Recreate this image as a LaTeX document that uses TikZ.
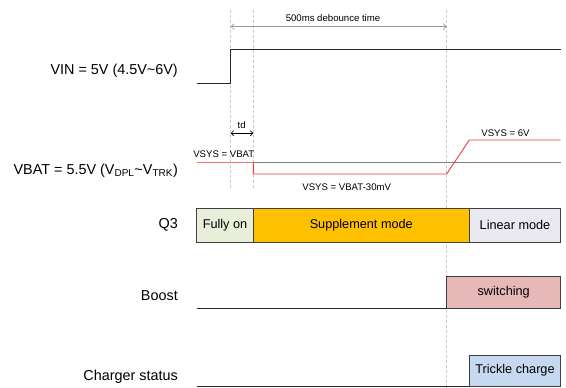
\documentclass[tikz,border=0pt]{standalone}
\usepackage{fontspec}
\setmainfont{Liberation Sans}
\usetikzlibrary{arrows.meta}
\definecolor{gridc}{RGB}{200,200,200}
\definecolor{sigc}{RGB}{40,40,40}
\definecolor{vbatc}{RGB}{128,128,128}
\definecolor{redc}{RGB}{235,60,60}
\definecolor{fullc}{RGB}{232,238,218}
\definecolor{suppc}{RGB}{255,192,0}
\definecolor{linc}{RGB}{234,232,240}
\definecolor{swc}{RGB}{230,184,183}
\definecolor{trkc}{RGB}{198,217,240}
\definecolor{boxline}{RGB}{64,64,64}
\tikzset{
  rowlabel/.style={anchor=east, inner sep=0pt, font=\fontsize{14.4}{16}\selectfont},
  small/.style={inner sep=0pt, font=\fontsize{9.6}{11}\selectfont},
  boxtxt/.style={draw=boxline, line width=0.9pt, inner sep=0pt, font=\fontsize{12.7}{14}\selectfont},
  grid/.style={draw=gridc, dashed, line width=0.6pt, dash pattern=on 3pt off 2pt},
  sig/.style={draw=sigc, line width=0.9pt},
  vbatline/.style={draw=vbatc, line width=1pt},
  redline/.style={draw=redc, line width=0.9pt},
}
\begin{document}
\begin{tikzpicture}[x=1pt,y=-1pt]
\useasboundingbox (0,0) rectangle (566,388);
% guides
\coordinate (g1t) at (230.7,10); \coordinate (g1b) at (230.7,188);
\coordinate (g2t) at (253.3,10); \coordinate (g2b) at (253.3,188);
\coordinate (g3t) at (446.7,10); \coordinate (g3b) at (446.7,388);
\draw[grid] (g1t) -- (g1b);
\draw[grid] (g2t) -- (g2b);
\draw[grid] (g3t) -- (g3b);
% debounce
\coordinate (dbA) at (230.7,26.7); \coordinate (dbB) at (446.7,26.7);
\draw[draw=vbatc!80, line width=0.7pt, {Straight Barb[length=3pt,width=6pt]}-{Straight Barb[length=3pt,width=6pt]}] (dbA) -- (dbB);
\node[small] (db) at (333,18) {500ms debounce time};
% VIN
\node[rowlabel] (vin) at (178,70.5) {VIN = 5V (4.5V\textasciitilde 6V)};
\coordinate (v0) at (196.7,83.3); \coordinate (v1) at (230.7,83.3);
\coordinate (v2) at (230.7,49.3); \coordinate (v3) at (560.7,49.3);
\draw[sig] (v0) -- (v1) -- (v2) -- (v3);
% VBAT
\node[rowlabel] (vbat) at (178,171) {VBAT = 5.5V (V\textsubscript{DPL}\textasciitilde V\textsubscript{TRK})};
\coordinate (b0) at (196.7,162.3); \coordinate (b1) at (560.7,162.3);
\draw[vbatline] (b0) -- (b1);
\coordinate (r0) at (196.7,162.3); \coordinate (r1) at (253.3,162.3);
\coordinate (r2) at (253.3,174); \coordinate (r3) at (446.7,174);
\coordinate (r4) at (469.3,140); \coordinate (r5) at (560.7,140);
\draw[draw=redc!70!white, line width=1.4pt] (r0) -- (r1);
\draw[redline] (r1) -- (r2) -- (r3) -- (r4) -- (r5);
\coordinate (tdA) at (230.7,133.3); \coordinate (tdB) at (253.3,133.3);
\draw[line width=0.7pt, {Straight Barb[length=2.5pt,width=5pt]}-{Straight Barb[length=2.5pt,width=5pt]}] (tdA) -- (tdB);
\node[small] (td) at (241.7,125) {td};
\node[small] (vs1) at (223.8,154) {VSYS = VBAT};
\node[small] (vs2) at (346.7,187) {VSYS = VBAT-30mV};
\node[small] (vs3) at (505.5,133) {VSYS = 6V};
% Q3
\node[rowlabel] (q3) at (178,225.3) {Q3};
\node[boxtxt, fill=fullc, minimum width=56.6pt, minimum height=34pt] (full) at (225,225.3) {Fully on};
\node[boxtxt, fill=suppc, minimum width=216pt, minimum height=34pt] (supp) at (361.3,225.3) {Supplement mode};
\node[boxtxt, fill=linc, minimum width=91.4pt, minimum height=34pt] (lin) at (515,225.3) {Linear mode};
% Boost
\node[rowlabel] (boost) at (178,296) {Boost};
\coordinate (s0) at (196.7,308.3); \coordinate (s1) at (446.7,308.3);
\draw[sig] (s0) -- (s1);
\node[boxtxt, fill=swc, minimum width=114pt, minimum height=31.6pt] (sw) at (503.7,292.5) {switching};
% Charger
\node[rowlabel] (chg) at (178,377) {Charger status};
\coordinate (c0) at (196.7,386); \coordinate (c1) at (469.3,386);
\draw[sig] (c0) -- (c1);
\node[boxtxt, fill=trkc, minimum width=91.4pt, minimum height=31pt] (trk) at (515,370.5) {Trickle charge};
\end{tikzpicture}
\end{document}
